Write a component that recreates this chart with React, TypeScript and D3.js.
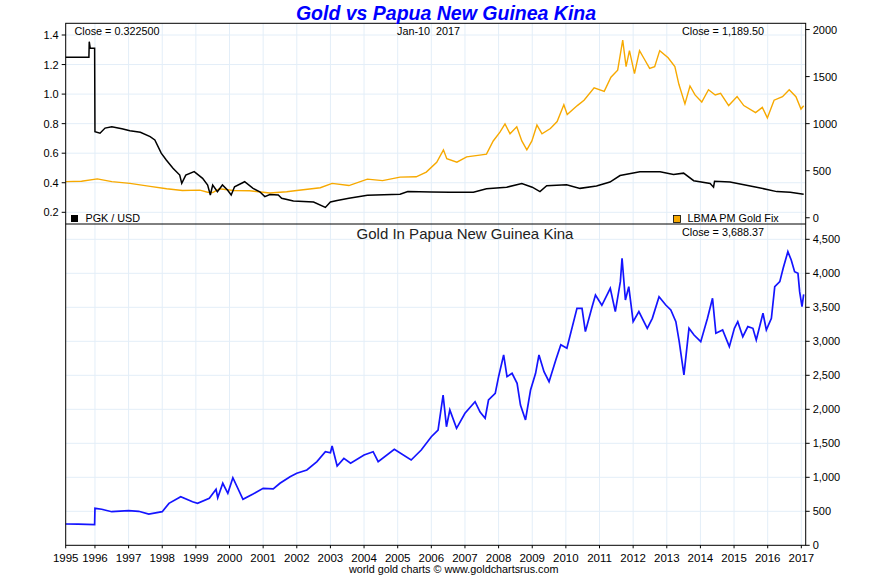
import React from 'react';
import * as d3 from 'd3';

// [fractional year, value]
const PGK_USD: [number, number][] = [
  [1995.13, 1.249], [1995.5, 1.25], [1995.82, 1.25], [1995.83, 1.355], [1995.86, 1.31],
  [1995.99, 1.31], [1996.0, 0.745], [1996.15, 0.735], [1996.3, 0.77], [1996.5, 0.779],
  [1996.8, 0.765], [1997.04, 0.752], [1997.35, 0.742], [1997.64, 0.712], [1997.78, 0.69],
  [1997.97, 0.6], [1998.12, 0.554], [1998.32, 0.498], [1998.52, 0.452], [1998.58, 0.396],
  [1998.7, 0.452], [1998.95, 0.475], [1999.2, 0.43], [1999.35, 0.385], [1999.43, 0.317],
  [1999.5, 0.385], [1999.64, 0.339], [1999.79, 0.385], [1999.94, 0.351], [2000.05, 0.317],
  [2000.15, 0.373], [2000.45, 0.407], [2000.7, 0.362], [2000.9, 0.339], [2001.05, 0.306],
  [2001.2, 0.32], [2001.45, 0.317], [2001.55, 0.295], [2001.9, 0.276], [2002.5, 0.27],
  [2002.85, 0.233], [2003.0, 0.27], [2003.2, 0.28], [2003.55, 0.295], [2004.1, 0.315],
  [2005.07, 0.322], [2005.3, 0.34], [2006.0, 0.338], [2006.56, 0.335], [2007.25, 0.336],
  [2007.64, 0.36], [2008.24, 0.37], [2008.69, 0.395], [2009.0, 0.37], [2009.23, 0.34],
  [2009.43, 0.38], [2010.02, 0.386], [2010.42, 0.362], [2010.91, 0.378], [2011.31, 0.405],
  [2011.61, 0.449], [2012.2, 0.474], [2012.8, 0.474], [2013.2, 0.456], [2013.5, 0.465],
  [2013.8, 0.414], [2014.29, 0.395], [2014.39, 0.37], [2014.42, 0.41], [2014.88, 0.405],
  [2015.67, 0.37], [2016.27, 0.34], [2016.67, 0.335], [2017.07, 0.3225]
];

const GOLD_USD: [number, number][] = [
  [1995.13, 384], [1995.6, 388], [1996.07, 413], [1996.5, 384], [1997.04, 365],
  [1997.64, 334], [1998.13, 308], [1998.6, 289], [1999.12, 294], [1999.35, 271],
  [1999.5, 268], [1999.7, 308], [2000.11, 290], [2000.6, 287], [2001.2, 263],
  [2001.7, 276], [2002.0, 289], [2002.7, 319], [2003.05, 365], [2003.55, 342],
  [2004.1, 410], [2004.55, 395], [2005.07, 432], [2005.55, 435], [2005.85, 485],
  [2006.16, 590], [2006.36, 722], [2006.46, 628], [2006.76, 590], [2007.05, 647],
  [2007.44, 666], [2007.64, 676], [2007.84, 816], [2008.04, 910], [2008.19, 997],
  [2008.34, 892], [2008.54, 966], [2008.69, 816], [2008.84, 722], [2008.99, 816],
  [2009.14, 985], [2009.29, 892], [2009.54, 948], [2009.74, 1022], [2009.94, 1200],
  [2010.04, 1098], [2010.34, 1192], [2010.54, 1249], [2010.84, 1380], [2011.14, 1343],
  [2011.34, 1493], [2011.54, 1569], [2011.69, 1888], [2011.79, 1606], [2011.89, 1776],
  [2012.04, 1531], [2012.19, 1776], [2012.34, 1682], [2012.49, 1587], [2012.64, 1606],
  [2012.79, 1776], [2013.04, 1700], [2013.24, 1606], [2013.36, 1418], [2013.54, 1210],
  [2013.69, 1400], [2013.84, 1305], [2014.04, 1230], [2014.24, 1360], [2014.44, 1305],
  [2014.6, 1323], [2014.84, 1192], [2015.09, 1287], [2015.29, 1192], [2015.64, 1117],
  [2015.84, 1173], [2015.99, 1061], [2016.19, 1249], [2016.44, 1287], [2016.64, 1361],
  [2016.84, 1287], [2016.99, 1155], [2017.07, 1189.5]
];

const GOLD_PGK: [number, number][] = [
  [1995.13, 313], [1995.5, 310], [1995.99, 305], [1996.0, 544], [1996.2, 530],
  [1996.5, 494], [1997.0, 509], [1997.3, 500], [1997.6, 460], [1998.0, 494],
  [1998.2, 617], [1998.55, 715], [1998.9, 640], [1999.05, 617], [1999.4, 691],
  [1999.6, 823], [1999.65, 700], [1999.8, 912], [1999.95, 765], [2000.1, 994],
  [2000.4, 676], [2000.7, 754], [2001.0, 838], [2001.3, 830], [2001.5, 912],
  [2001.8, 1009], [2002.0, 1059], [2002.3, 1107], [2002.6, 1230], [2002.85, 1376],
  [2003.0, 1360], [2003.05, 1460], [2003.2, 1166], [2003.4, 1279], [2003.6, 1206],
  [2004.0, 1328], [2004.27, 1376], [2004.42, 1230], [2004.9, 1412], [2005.4, 1254],
  [2005.7, 1401], [2006.0, 1597], [2006.2, 1695], [2006.35, 2210], [2006.45, 1744],
  [2006.55, 1990], [2006.75, 1720], [2007.0, 1941], [2007.3, 2112], [2007.45, 1960],
  [2007.6, 1868], [2007.7, 2137], [2007.9, 2235], [2008.0, 2480], [2008.15, 2799],
  [2008.25, 2480], [2008.4, 2529], [2008.55, 2382], [2008.65, 2063], [2008.8, 1843],
  [2008.95, 2284], [2009.1, 2529], [2009.2, 2799], [2009.35, 2553], [2009.5, 2406],
  [2009.7, 2725], [2009.85, 2950], [2010.03, 2897], [2010.33, 3485], [2010.48, 3485],
  [2010.58, 3142], [2010.78, 3509], [2010.88, 3681], [2011.07, 3530], [2011.32, 3779],
  [2011.47, 3436], [2011.62, 3877], [2011.67, 4221], [2011.77, 3607], [2011.87, 3804],
  [2012.0, 3289], [2012.17, 3436], [2012.42, 3191], [2012.57, 3338], [2012.77, 3656],
  [2012.97, 3534], [2013.12, 3460], [2013.27, 3289], [2013.37, 2994], [2013.51, 2505],
  [2013.66, 3191], [2013.81, 3093], [2014.01, 2994], [2014.21, 3338], [2014.36, 3632],
  [2014.46, 3118], [2014.66, 3167], [2014.86, 2921], [2015.01, 3191], [2015.11, 3289],
  [2015.26, 3068], [2015.41, 3216], [2015.56, 3191], [2015.66, 3020], [2015.86, 3412],
  [2015.96, 3167], [2016.11, 3338], [2016.21, 3804], [2016.36, 3877], [2016.46, 4074],
  [2016.6, 4318], [2016.7, 4196], [2016.8, 4024], [2016.9, 4000], [2016.95, 3730],
  [2017.02, 3509], [2017.07, 3688.37]
];

const YEAR_TICKS = d3.range(1996, 2018);
const PGK_TICKS = [0.2, 0.4, 0.6, 0.8, 1.0, 1.2, 1.4];
const USD_TICKS = [0, 500, 1000, 1500, 2000];
const KINA_TICKS = d3.range(0, 4501, 500);

const FONT = '"Liberation Sans", Arial, sans-serif';
const GRID = '#e3eef8';

export default function App() {
  const left = 65.7, right = 805.7;
  const top1 = 23.3, bot1 = 224, bot2 = 545.3;

  const x = d3.scaleLinear().domain([1995.13, 1995.13 + 22]).range([left, right]);
  const yPgk = d3.scaleLinear().domain([0.1208, 1.4792]).range([bot1, top1]);
  const yUsd = d3.scaleLinear().domain([-66.4, 2066.4]).range([bot1, top1]);
  const yKina = d3.scaleLinear().domain([0, 4725]).range([bot2, bot1]);

  const line = (ys: d3.ScaleLinear<number, number>) =>
    d3.line<[number, number]>().x(d => x(d[0])).y(d => ys(d[1]));

  const fmtK = d3.format(',');

  return (
    <svg width={890} height={575} style={{ position: 'absolute', left: 0, top: 0, background: '#fff' }}
      fontFamily={FONT}>
      <rect width={890} height={575} fill="#fff" />

      {/* grid */}
      {YEAR_TICKS.map(t => (
        <line key={'vg' + t} x1={x(t)} x2={x(t)} y1={top1} y2={bot2} stroke={GRID} />
      ))}
      {PGK_TICKS.map(t => (
        <line key={'hg1' + t} x1={left} x2={right} y1={yPgk(t)} y2={yPgk(t)} stroke={GRID} />
      ))}
      {KINA_TICKS.slice(1).map(t => (
        <line key={'hg2' + t} x1={left} x2={right} y1={yKina(t)} y2={yKina(t)} stroke={GRID} />
      ))}

      {/* series */}
      <path d={line(yUsd)(GOLD_USD) || ''} fill="none" stroke="#f7a900" strokeWidth={1.4} />
      <path d={line(yPgk)(PGK_USD) || ''} fill="none" stroke="#000" strokeWidth={1.5} />
      <path d={line(yKina)(GOLD_PGK) || ''} fill="none" stroke="#1414ff" strokeWidth={1.7} />

      {/* frames */}
      <rect x={left} y={top1} width={right - left} height={bot2 - top1} fill="none" stroke="#000" />
      <line x1={left} x2={right} y1={bot1} y2={bot1} stroke="#000" />

      {/* left axis, top panel */}
      {PGK_TICKS.map(t => (
        <g key={'la' + t}>
          <line x1={left - 4} x2={left} y1={yPgk(t)} y2={yPgk(t)} stroke="#000" />
          <text x={left - 7} y={yPgk(t) + 4} fontSize={11} textAnchor="end">{t.toFixed(1)}</text>
        </g>
      ))}
      {/* right axis, top panel */}
      {USD_TICKS.map(t => (
        <g key={'ra' + t}>
          <line x1={right} x2={right + 4} y1={yUsd(t)} y2={yUsd(t)} stroke="#000" />
          <text x={right + 7} y={yUsd(t) + 4} fontSize={11}>{t}</text>
        </g>
      ))}
      {/* right axis, bottom panel */}
      {KINA_TICKS.map(t => (
        <g key={'rb' + t}>
          <line x1={right} x2={right + 4} y1={yKina(t)} y2={yKina(t)} stroke="#000" />
          <text x={right + 7} y={yKina(t) + 4} fontSize={11}>{fmtK(t)}</text>
        </g>
      ))}
      {/* x axis */}
      {[1995.13, ...YEAR_TICKS].map(t => (
        <g key={'xa' + t}>
          <line x1={x(t)} x2={x(t)} y1={bot2} y2={bot2 + 3} stroke="#000" />
          <text x={x(t)} y={561.5} fontSize={11.5} textAnchor="middle">{Math.floor(t)}</text>
        </g>
      ))}

      {/* texts */}
      <text x={446} y={20} fontSize={19.5} fontWeight="bold" fontStyle="italic" fill="#0000ff"
        textAnchor="middle">Gold vs Papua New Guinea Kina</text>
      <text x={74.5} y={34.5} fontSize={10.8}>Close = 0.322500</text>
      <text x={428.5} y={34.5} fontSize={10.8} textAnchor="middle" style={{ whiteSpace: 'pre' }}>Jan-10  2017</text>
      <text x={682} y={34.5} fontSize={10.8}>Close = 1,189.50</text>

      <rect x={71} y={215} width={7} height={7} fill="#000" />
      <text x={85.5} y={222} fontSize={10.8}>PGK / USD</text>
      <rect x={673.5} y={215.5} width={7} height={7} fill="#f7a900" stroke="#000" strokeWidth={0.8} />
      <text x={687.5} y={222} fontSize={10.8}>LBMA PM Gold Fix</text>

      <text x={465} y={239} fontSize={15} textAnchor="middle" fill="#222">Gold In Papua New Guinea Kina</text>
      <text x={682} y={235.5} fontSize={10.8}>Close = 3,688.37</text>

      <text x={453.7} y={573} fontSize={10.8} textAnchor="middle">world gold charts © www.goldchartsrus.com</text>
    </svg>
  );
}
